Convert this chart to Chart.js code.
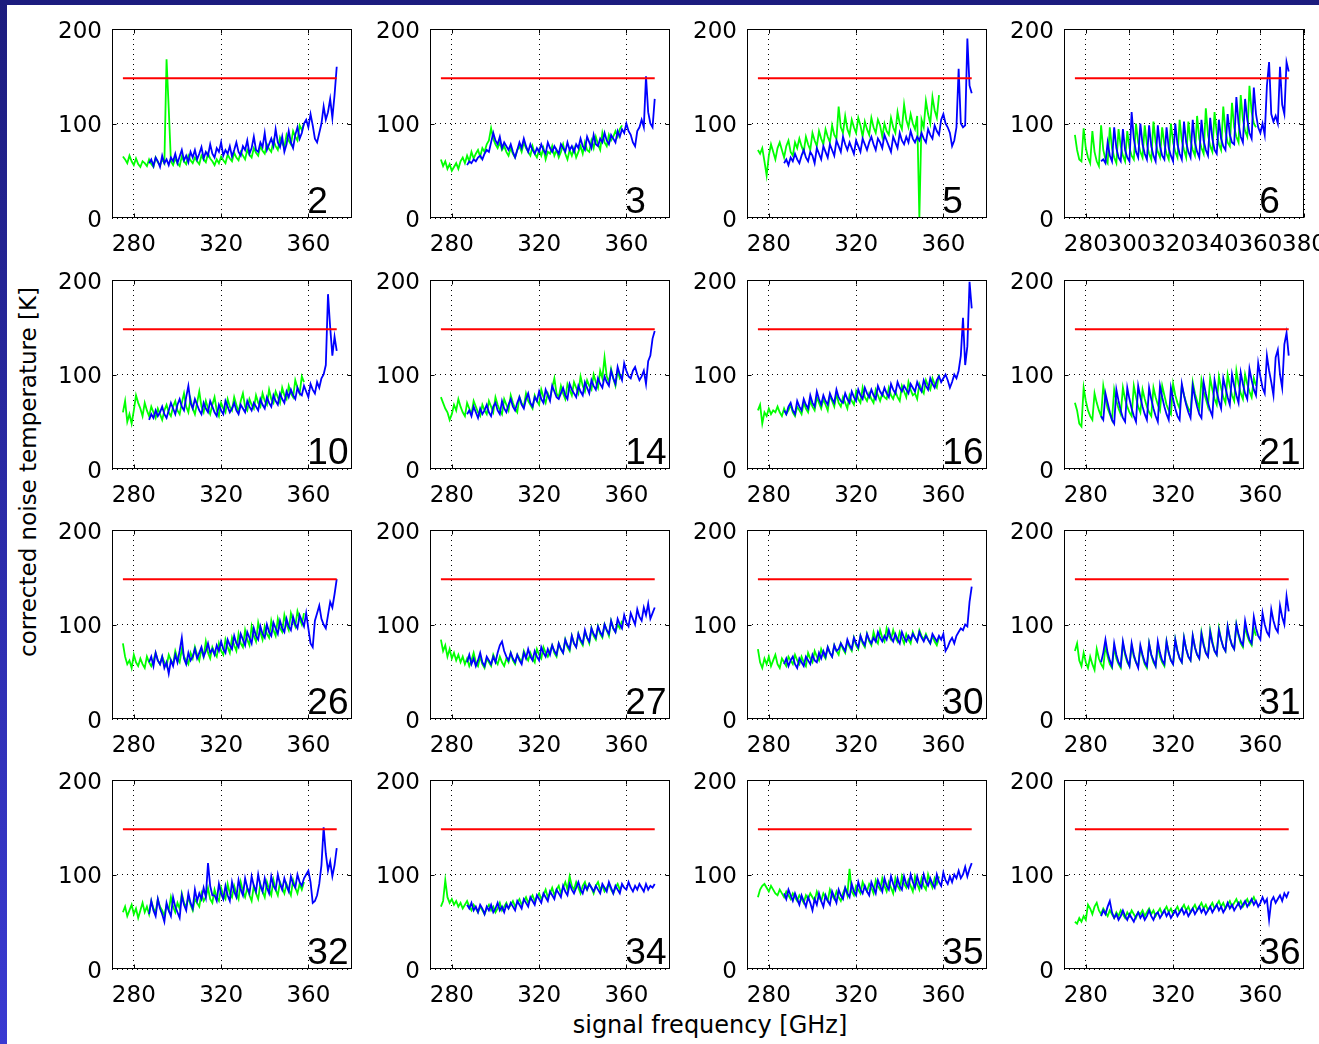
<!DOCTYPE html>
<html>
<head>
<meta charset="utf-8">
<script src="https://cdn.jsdelivr.net/npm/chart.js@4.4.1/dist/chart.umd.min.js"></script>
<style>
html, body { margin: 0; padding: 0; width: 1319px; height: 1044px; overflow: hidden;
  background: linear-gradient(#1c1c7e, #3a3ad2); }
#sheet { position: absolute; left: 7px; top: 5px; right: 0; bottom: 0; background: #fff; }
canvas { position: absolute; }
.title { position: absolute; font-family: "DejaVu Sans"; color: #000; white-space: nowrap; line-height: 1; }
#xTitle { left: 710px; top: 1013px; font-size: 24px; transform: translateX(-50%); }
#yTitle { left: 28px; top: 472px; font-size: 23px; transform: translate(-50%, -50%) rotate(-90deg); }
</style>
</head>
<body>
<div id="sheet"></div>
<div class="title" id="xTitle">signal frequency [GHz]</div>
<div class="title" id="yTitle">corrected noise temperature [K]</div>
<script>
// sweep start frequencies [GHz], 1 GHz per sample
const greenStart = 275;
const blueStart = 287;
const limitGHz = [275, 373];
const limitK = 148;
const xTicks = [280, 320, 360];
const xTicksFine = [280, 300, 320, 340, 360, 380];
const yTicks = [0, 100, 200];

const green02 = [65,62,58,66,60,56,63,57,54,60, 58,55,62,57,54,64,59,56,62,58, 168,116, 60,56,63,58,55,65,60,57,66,61, 58,64,60,57,66,62,59,68,63,60, 56,62,58,65,61,58,67,63,60,69, 64,61,70,66,62,72,67,64,74,69, 66,76,71,68,78,73,70,82,76,72, 85,79,75,88,82,78,92,86,82,98,93,100];
const blue02 = [58,62,55,64,60,54,66,58,62,56, 64,60,68,58,65,72,61,66,59,70, 64,72,62,68,75,63,70,66,78,68, 64,74,70,80,66,72,68,76,65,72, 80,70,66,76,72,82,68,74,86,72, 70,80,75,90,72,78,84,76,94,80, 75,86,70,78,92,80,74,88,96,84, 90,100,104,96,110,98,84,80,90,100, 118,104,112,126,106,130,160];

const green03 = [62,55,60,52,57,50,54,58,52,60, 64,58,66,60,70,63,68,72,65,74, 70,78,82,95,84,78,74,80,72,76, 70,66,74,68,64,72,76,70,80,74, 70,66,76,68,64,72,66,74,62,70, 68,76,66,72,64,70,78,68,62,72, 66,74,64,70,76,68,80,72,70,82, 74,86,78,72,90,80,76,88,82,86, 92,86,94,98];
const blue03 = [56,60,58,62,60,64,66,62,68,72, 70,80,90,82,78,86,74,80,76,72, 78,70,64,72,80,74,84,76,70,78, 72,68,74,70,78,72,68,80,74,70, 76,72,68,78,74,70,80,72,76,70, 78,74,84,76,72,86,80,74,88,78, 76,84,80,90,82,78,88,84,80,92, 86,94,90,100,92,88,80,76,92,96, 104,96,150,112,100,96,126];

const green05 = [72,68,74,60,45,66,78,70,62,74, 80,72,64,76,82,70,66,80,74,84, 76,70,86,78,72,90,82,76,92,84, 78,94,86,80,98,88,84,118,96,90, 108,94,88,104,96,90,106,98,86,102, 94,88,106,96,90,104,98,86,100,92, 88,106,96,90,112,100,94,120,104,96, 110,100,94,108,0,104,96,124,110,100, 128,114,106,130];
const blue05 = [58,62,56,64,60,68,62,58,66,72, 64,60,70,66,58,74,68,62,76,70, 64,78,72,66,82,76,70,86,78,72, 80,74,68,82,76,70,84,78,72,80, 86,78,72,84,80,74,88,82,76,70, 86,80,74,90,82,78,86,80,92,84, 80,86,82,90,84,80,94,88,84,98, 92,88,104,110,100,96,90,76,82,96, 158,100,96,98,190,140,132];

const green06 = [88,72,62,60,95,74,64,58,92,70, 60,55,98,72,62,58,96,74,64,58, 94,76,66,60,92,74,66,62,100,80, 70,64,98,78,68,62,102,80,70,64, 96,78,68,62,100,80,70,64,104,82, 72,64,102,82,72,66,108,84,74,68, 116,88,76,70,112,90,78,72,118,92, 80,76,122,96,86,80,130,104,92,86, 140,112,100,96];
const blue06 = [60,62,58,80,66,60,96,74,64,60, 94,72,64,60,112,84,70,64,100,78, 68,62,98,76,66,60,98,76,66,62, 96,74,66,60,100,78,68,62,102,80, 70,64,104,80,70,64,104,82,72,66, 106,84,72,68,104,84,76,72,110,88, 80,78,128,100,86,80,126,104,90,84, 138,110,96,90,100,88,140,165,110,102, 108,100,160,120,110,165,155];

const green10 = [60,72,50,58,48,62,78,70,64,56, 70,62,56,66,60,54,64,58,52,62, 68,60,56,66,72,62,58,70,80,66, 60,74,64,58,70,82,66,60,72,64, 58,68,76,62,56,70,64,60,74,66, 62,76,68,60,72,80,66,62,74,68, 64,78,70,66,80,72,68,84,74,70, 82,76,70,86,78,74,88,80,76,94, 86,80,98,92];
const blue10 = [52,58,54,62,56,60,66,58,54,62, 70,64,58,68,74,66,62,76,88,70, 64,74,68,62,58,70,64,60,72,66, 60,56,68,62,58,72,66,60,64,70, 62,58,68,64,60,72,66,62,70,66, 62,74,68,64,76,70,66,78,72,68, 80,74,70,82,76,84,78,74,86,80, 78,88,82,76,90,84,80,92,86,96, 100,110,185,150,120,140,125];

const green14 = [76,70,64,60,52,58,68,62,74,66, 60,56,70,64,58,72,66,60,56,68, 62,58,72,66,60,76,68,62,58,74, 68,62,78,70,64,60,76,70,66,80, 72,68,64,78,72,68,84,76,70,80, 74,86,96,80,76,88,80,74,90,84, 78,92,86,80,98,88,82,94,88,84, 100,92,86,104,96,118,98,92,106,96, 88,104,96,100];
const blue14 = [58,62,56,66,60,54,64,58,62,68, 60,56,66,70,62,58,72,64,60,68, 74,66,62,70,76,68,64,74,80,70, 66,76,72,82,74,70,84,78,72,88, 82,76,74,80,86,78,74,90,84,80, 76,88,82,78,92,86,80,94,88,84, 96,90,86,98,92,88,104,96,90,108, 100,94,112,104,98,96,104,108,100,94, 98,104,90,114,120,138,146];

const green16 = [62,68,48,60,56,64,58,62,60,66, 60,56,64,58,62,68,60,56,66,62, 58,70,64,60,72,66,62,76,70,64, 74,68,62,78,72,66,80,70,66,76, 70,64,78,72,68,82,74,70,86,76, 72,80,74,70,84,78,72,80,76,74, 86,78,74,82,76,72,88,82,76,92, 84,78,80,74,90,84,80,94,88,84, 96,90,86,100];
const blue16 = [62,58,66,70,62,58,72,66,62,74, 68,64,78,70,66,82,74,68,78,72, 68,80,74,70,84,76,72,70,80,74, 70,82,76,72,84,78,74,86,80,76, 84,78,74,88,82,78,86,80,76,90, 84,80,92,86,82,88,84,80,90,86, 82,92,86,82,94,88,84,96,90,86, 94,98,92,96,100,94,86,92,100,96, 104,120,160,110,130,198,170];

const green21 = [70,62,48,45,86,72,62,56,52,80, 70,62,56,88,74,64,58,52,84,72, 64,58,86,74,66,60,56,88,76,66, 60,84,74,66,60,56,86,76,68,62, 88,78,68,62,58,90,78,70,64,88, 78,70,64,60,92,80,72,64,94,82, 74,66,96,84,74,68,98,86,76,70, 100,88,78,72,104,90,80,74,100,90, 82,76,96,88];
const blue21 = [56,52,80,70,60,52,48,84,72,62, 54,50,86,74,64,56,50,88,76,66, 58,52,86,74,64,56,50,88,76,66, 58,52,86,74,64,56,52,90,78,68, 60,54,88,76,66,58,54,92,80,70, 62,56,94,82,72,64,96,86,76,68, 100,88,78,70,102,90,80,74,106,94, 84,78,112,98,86,80,120,104,92,78, 118,126,100,86,132,144,120];

const green26 = [80,66,58,62,54,68,60,56,64,58, 54,66,60,56,62,70,62,58,66,60, 56,68,62,58,72,64,60,74,66,62, 58,70,64,76,68,62,74,66,82,70, 64,76,70,66,80,72,68,84,76,70, 86,78,72,90,80,76,94,84,78,98, 88,82,102,92,84,98,90,86,104,94, 88,106,96,92,110,100,94,112,104,98, 114,106,100,112];
const blue26 = [60,66,56,70,62,58,66,54,60,48, 62,56,68,60,72,86,64,58,70,62, 66,74,64,70,76,66,72,80,70,74, 68,78,72,82,74,70,84,78,74,88, 80,76,90,84,78,92,86,80,96,88, 84,98,90,86,100,92,88,102,96,90, 104,96,92,106,98,94,108,100,96,110, 104,98,112,96,80,76,104,112,120,106, 100,96,110,124,118,132,148];

const green27 = [84,72,78,66,74,64,70,62,68,60, 66,58,64,56,62,70,60,56,66,58, 54,64,60,56,68,62,58,66,60,56, 64,60,70,62,58,68,64,60,72,66, 62,70,64,60,74,68,64,76,70,66, 72,78,70,66,80,74,70,84,76,72, 88,80,76,90,82,78,92,86,80,96, 88,84,98,90,86,100,94,88,104,96, 92,100,96,104];
const blue27 = [60,68,58,64,56,62,70,60,56,66, 62,58,66,60,70,78,82,72,66,62, 70,64,60,68,62,58,70,64,74,66, 62,72,66,62,76,70,66,74,68,78, 72,68,80,74,70,84,78,74,88,80, 76,90,84,80,94,86,82,96,90,86, 98,92,88,100,94,90,104,96,92,106, 100,96,110,102,98,112,106,100,116,108, 104,118,110,122,106,112,118];

const green30 = [74,60,54,64,58,66,56,62,68,58, 54,64,60,56,66,62,58,68,62,58, 66,60,56,70,64,60,72,66,62,74, 68,64,76,70,66,78,72,68,80,74, 70,82,76,72,86,78,74,88,80,76, 90,82,78,92,84,80,94,86,82,96, 88,84,94,86,82,92,86,80,90,84, 80,92,86,82,94,88,84,90,84,80, 88,82,78,86];
const blue30 = [58,64,56,62,66,58,54,64,60,56, 66,62,58,68,62,60,70,64,72,66, 76,70,66,78,72,74,80,76,72,84, 78,74,86,80,76,88,82,78,90,84, 80,86,82,92,86,82,88,84,94,86, 82,90,84,80,92,86,82,88,84,90, 86,82,92,86,82,88,84,80,90,86, 82,88,84,90,72,76,82,86,80,88, 92,96,94,100,98,124,140];

const green31 = [72,80,62,56,70,60,54,66,58,52, 74,64,58,54,78,66,58,54,76,64, 58,54,80,68,60,56,78,66,60,56, 76,66,58,54,80,68,60,56,78,66, 60,56,82,70,62,58,84,72,64,60, 86,74,66,62,88,76,68,64,92,80, 70,66,94,82,72,68,96,84,76,72, 98,86,78,74,100,88,80,76,98,88, 82,78,96,88];
const blue31 = [60,70,84,70,62,56,80,68,60,56, 82,70,62,56,80,68,60,54,78,68, 60,56,80,68,62,56,82,70,62,58, 82,70,62,58,84,72,64,60,86,74, 66,62,88,76,68,64,90,78,70,66, 92,80,72,68,94,84,76,72,98,86, 78,74,100,90,82,78,104,92,84,80, 108,96,88,84,112,100,92,88,116,104, 96,92,120,108,100,130,114];

const green32 = [60,66,56,62,68,58,64,54,62,70, 60,66,58,72,64,60,74,66,62,56, 68,62,76,66,60,70,64,80,70,66, 76,68,62,74,70,66,80,72,76,86, 74,70,84,76,72,86,78,74,90,80, 76,88,80,74,92,82,76,86,78,72, 88,80,74,90,82,76,92,84,78,94, 84,78,92,86,80,90,84,78,94,86, 80,90,84,92];
const blue32 = [58,72,62,56,74,64,58,50,70,62, 56,76,66,60,54,78,68,62,80,70, 64,84,72,80,74,86,76,112,88,78, 78,72,90,80,74,88,78,72,92,82, 76,94,84,78,96,86,80,98,88,82, 100,88,82,96,86,80,98,88,84,100, 90,84,96,88,82,98,90,86,100,92, 88,96,100,104,92,70,72,78,90,110, 150,122,104,114,98,110,128];

const green34 = [66,72,94,76,70,74,68,72,66,70, 64,68,72,66,62,68,64,60,66,62, 58,64,68,62,66,60,64,70,62,66, 70,64,68,72,66,70,74,68,72,76, 70,74,78,72,76,80,74,78,84,76, 80,86,78,84,88,80,86,92,84,98, 88,84,92,86,80,88,92,84,90,86, 80,88,92,84,88,82,86,90,84,80, 86,90,84,88];
const blue34 = [68,64,70,62,66,60,68,64,58,66, 62,68,60,64,70,62,66,60,68,64, 70,66,62,72,68,64,74,70,66,76, 72,68,78,74,70,80,76,72,82,78, 74,84,80,76,88,82,78,90,84,80, 86,92,84,80,88,84,90,86,82,88, 84,80,90,86,82,92,86,80,88,84, 80,90,86,84,92,86,82,88,84,90, 86,82,90,84,88,86,90];

const green35 = [76,84,88,90,86,82,88,84,80,78, 84,80,76,82,78,74,80,76,72,78, 74,70,78,74,80,76,72,82,76,72, 80,76,72,84,78,74,82,76,72,80, 86,78,106,82,78,88,84,80,92,86, 82,90,86,80,94,88,84,96,88,82, 92,86,80,96,88,84,98,90,86,94, 88,82,98,90,84,96,88,84,100,92, 86,96,90,98];
const blue35 = [80,74,84,78,72,80,74,68,78,72, 66,76,70,62,74,68,80,72,66,78, 72,68,82,76,70,84,78,74,86,80, 76,90,82,78,92,84,80,88,82,78, 92,86,80,94,88,82,96,88,84,98, 90,84,96,88,84,98,90,86,100,92, 86,98,90,86,100,92,88,96,90,86, 100,92,88,102,94,90,98,92,100,96, 104,96,100,108,98,106,112];

const green36 = [50,48,54,50,56,52,68,64,58,66, 70,62,58,64,60,56,62,58,54,60, 56,62,58,54,60,56,62,58,54,60, 58,62,56,60,64,58,62,56,60,64, 58,62,66,60,64,58,62,66,60,64, 68,62,66,60,64,68,62,66,70,64, 68,62,66,70,64,68,72,66,70,64, 68,72,66,70,74,68,72,66,70,74, 68,72,76,70];
const blue36 = [56,62,58,66,72,60,54,58,52,56, 62,56,52,58,54,50,56,60,54,58, 52,56,62,56,52,58,60,54,58,62, 56,60,54,58,62,56,60,64,58,62, 56,60,64,58,62,66,60,64,58,62, 66,60,64,68,62,66,60,64,70,64, 68,62,66,70,64,68,72,66,70,74, 68,72,66,70,76,70,74,52,72,76, 70,74,78,72,80,76,82];

const panels = [
  ['2', green02, blue02, xTicks], ['3', green03, blue03, xTicks],
  ['5', green05, blue05, xTicks], ['6', green06, blue06, xTicksFine],
  ['10', green10, blue10, xTicks], ['14', green14, blue14, xTicks],
  ['16', green16, blue16, xTicks], ['21', green21, blue21, xTicks],
  ['26', green26, blue26, xTicks], ['27', green27, blue27, xTicks],
  ['30', green30, blue30, xTicks], ['31', green31, blue31, xTicks],
  ['32', green32, blue32, xTicks], ['34', green34, blue34, xTicks],
  ['35', green35, blue35, xTicks], ['36', green36, blue36, xTicks]
];

const plotLeft = [112, 430, 747, 1064];
const plotTop = [29, 280, 530, 780];
const padL = 62, padT = 26, padR = 40, padB = 36;
const plotW = 240, plotH = 189;

const toPoints = (start, vals) => vals.map((v, i) => ({ x: start + i, y: v }));

// MATLAB style box, inward ticks and the big panel number
const boxPlugin = {
  id: 'matlabBox',
  afterDraw(chart, args, opts) {
    const { ctx, chartArea: a, scales: { x, y } } = chart;
    const L = Math.round(a.left) + 0.5, T = Math.round(a.top) + 0.5;
    const R = Math.round(a.right) - 0.5, B = Math.round(a.bottom) - 0.5;
    ctx.save();
    ctx.strokeStyle = '#000';
    ctx.lineWidth = 1;
    ctx.strokeRect(L, T, R - L, B - T);
    ctx.beginPath();
    x.ticks.forEach(t => {
      const px = Math.round(x.getPixelForValue(t.value)) + 0.5;
      ctx.moveTo(px, B); ctx.lineTo(px, B - 4);
      ctx.moveTo(px, T); ctx.lineTo(px, T + 4);
    });
    const py = Math.round(y.getPixelForValue(100)) + 0.5;
    ctx.moveTo(L, py); ctx.lineTo(L + 4, py);
    ctx.moveTo(R, py); ctx.lineTo(R - 4, py);
    ctx.stroke();
    ctx.fillStyle = '#000';
    ctx.font = '37px "Liberation Sans"';
    ctx.textAlign = 'left';
    ctx.textBaseline = 'alphabetic';
    ctx.fillText(opts.label, x.getPixelForValue(360) - 1, y.getPixelForValue(5));
    ctx.restore();
  }
};

const tickFont = { family: 'DejaVu Sans', size: 23 };

panels.forEach((p, i) => {
  const [label, green, blue, ticks] = p;
  const col = i % 4, row = Math.floor(i / 4);
  const canvas = document.createElement('canvas');
  canvas.width = padL + plotW + padR;
  canvas.height = padT + plotH + padB;
  canvas.style.left = (plotLeft[col] - padL) + 'px';
  canvas.style.top = (plotTop[row] - padT) + 'px';
  document.body.appendChild(canvas);

  new Chart(canvas.getContext('2d'), {
    type: 'line',
    data: {
      datasets: [
        { data: limitGHz.map(f => ({ x: f, y: limitK })), borderColor: '#ff0000', borderWidth: 2 },
        { data: toPoints(blueStart, blue), borderColor: '#0000ff', borderWidth: 1.8 },
        { data: toPoints(greenStart, green), borderColor: '#00ff00', borderWidth: 1.8 }
      ]
    },
    options: {
      responsive: false,
      animation: false,
      events: [],
      elements: { point: { radius: 0 }, line: { tension: 0 } },
      layout: { padding: { top: padT, right: padR, left: 0, bottom: 0 } },
      plugins: { legend: { display: false }, tooltip: { enabled: false }, matlabBox: { label } },
      scales: {
        x: {
          type: 'linear', min: 270, max: 380,
          afterBuildTicks: s => { s.ticks = ticks.map(v => ({ value: v })); },
          afterFit: s => { s.height = padB; },
          grid: { color: '#000', lineWidth: 1, drawTicks: false },
          border: { display: false, dash: [1, 4] },
          ticks: { autoSkip: false, maxRotation: 0, minRotation: 0, padding: 13, color: '#000', font: tickFont }
        },
        y: {
          min: 0, max: 200,
          afterBuildTicks: s => { s.ticks = yTicks.map(v => ({ value: v })); },
          afterFit: s => { s.width = padL; },
          grid: { color: '#000', lineWidth: 1, drawTicks: false },
          border: { display: false, dash: [1, 4] },
          ticks: { padding: 10, labelOffset: 3, color: '#000', font: tickFont }
        }
      }
    },
    plugins: [boxPlugin]
  });
});
</script>
</body>
</html>
